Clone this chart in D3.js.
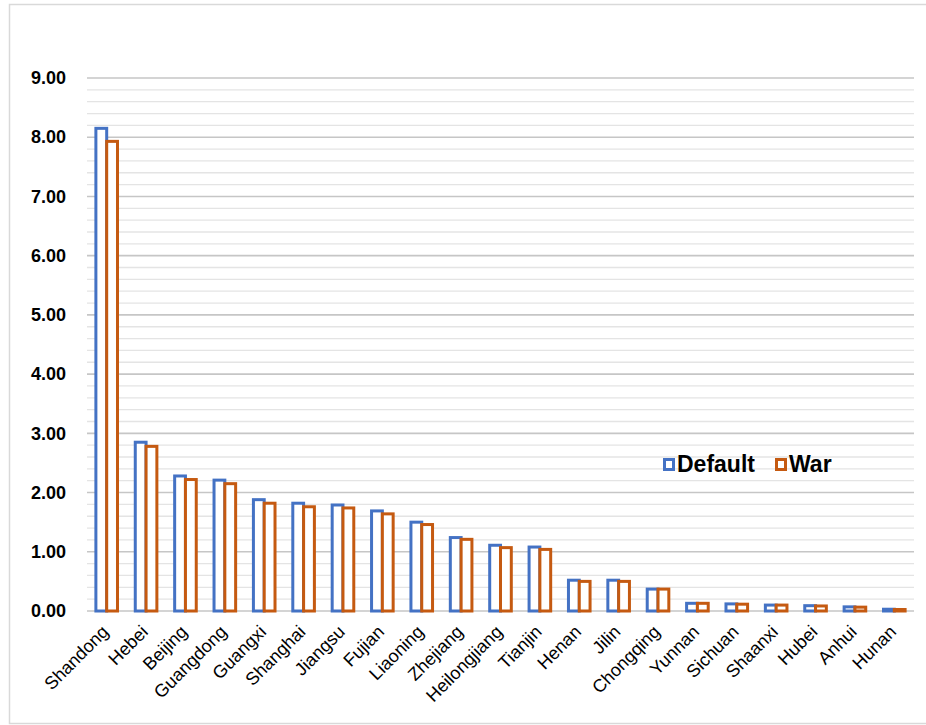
<!DOCTYPE html>
<html>
<head>
<meta charset="utf-8">
<script src="https://cdn.jsdelivr.net/npm/d3@7"></script>
<style>
    body { margin: 0; background: #fff; }
    svg { display: block; font-family: "Liberation Sans", Arial, Helvetica, sans-serif; }
</style>
</head>
<body>
<svg id="chart" width="926" height="725"></svg>
<script>
let provinces = ["Shandong", "Hebei", "Beijing", "Guangdong", "Guangxi", "Shanghai", "Jiangsu",
    "Fujian", "Liaoning", "Zhejiang", "Heilongjiang", "Tianjin", "Henan", "Jilin", "Chongqing",
    "Yunnan", "Sichuan", "Shaanxi", "Hubei", "Anhui", "Hunan"];
let defaultValues = [8.15, 2.85, 2.28, 2.21, 1.88, 1.82, 1.79, 1.69, 1.50, 1.24, 1.11, 1.08,
    0.52, 0.52, 0.37, 0.13, 0.12, 0.10, 0.09, 0.07, 0.03];
let warValues = [7.93, 2.78, 2.22, 2.15, 1.82, 1.76, 1.74, 1.64, 1.46, 1.21, 1.07, 1.04,
    0.50, 0.50, 0.37, 0.13, 0.115, 0.10, 0.085, 0.065, 0.025];
let seriesNames = ["Default", "War"];
let yTicks = [0, 1, 2, 3, 4, 5, 6, 7, 8, 9];

let colors = { "Default": "#4472C4", "War": "#C55A11" };
let barW = 10.8;

let svg = d3.select("#chart");

// chart frame
svg.append("rect")
    .attr("x", 9.5)
    .attr("y", 4.5)
    .attr("width", 940)
    .attr("height", 719)
    .attr("fill", "none")
    .attr("stroke", "#d9d9d9")
    .attr("stroke-width", 1.5);

let x = d3.scaleBand()
    .domain(provinces)
    .range([87, 914]);

let x1 = d3.scaleBand()
    .domain(seriesNames)
    .range([-barW, barW]);

let y = d3.scaleLinear()
    .domain([0, 9])
    .range([611, 78]);

// minor gridlines every 0.2
let minorTicks = d3.range(0, 45).map(i => i / 5).filter(v => v % 1 !== 0);
svg.append("g")
    .selectAll("line")
    .data(minorTicks)
    .enter()
    .append("line")
    .attr("x1", 87)
    .attr("x2", 914)
    .attr("y1", d => y(d))
    .attr("y2", d => y(d))
    .attr("stroke", "#e4e4e4")
    .attr("stroke-width", 1.3);

// major gridlines
svg.append("g")
    .selectAll("line")
    .data(yTicks)
    .enter()
    .append("line")
    .attr("x1", 87)
    .attr("x2", 914)
    .attr("y1", d => y(d))
    .attr("y2", d => y(d))
    .attr("stroke", "#c6c6c6")
    .attr("stroke-width", 1.6);

// y axis labels
let yAxis = svg.append("g")
    .attr("transform", "translate(66,0)")
    .call(d3.axisLeft(y).tickValues(yTicks).tickFormat(d3.format(".2f")).tickSize(0).tickPadding(0));
yAxis.select(".domain").remove();
yAxis.selectAll("text")
    .attr("fill", "#000")
    .style("font-size", "18px")
    .style("font-weight", "bold")
    .style("font-family", "\"Liberation Sans\", Arial, sans-serif");

// bars
let rows = provinces.map((p, i) => ({ name: p, Default: defaultValues[i], War: warValues[i] }));

seriesNames.forEach(s => {
    svg.append("g")
        .selectAll("rect")
        .data(rows)
        .enter()
        .append("rect")
        .attr("x", d => x(d.name) + x.bandwidth() / 2 + x1(s))
        .attr("y", d => y(d[s]))
        .attr("width", x1.bandwidth())
        .attr("height", d => y(0) - y(d[s]))
        .attr("fill", "#fff")
        .attr("stroke", colors[s])
        .attr("stroke-width", 3);
});

// x labels
svg.append("g")
    .selectAll("text")
    .data(provinces)
    .enter()
    .append("text")
    .attr("text-anchor", "end")
    .attr("transform", d => "translate(" + (x(d) + x.bandwidth() / 2 + 3) + ",633) rotate(-45)")
    .style("font-size", "18px")
    .attr("fill", "#000")
    .text(d => d);

// legend
let legendX = [663, 775];
let legend = svg.append("g")
    .selectAll("g")
    .data(seriesNames)
    .enter()
    .append("g")
    .attr("transform", (d, i) => "translate(" + legendX[i] + ",458)");

legend.append("rect")
    .attr("x", 1.5)
    .attr("y", 1.5)
    .attr("width", 9)
    .attr("height", 10)
    .attr("fill", "#fff")
    .attr("stroke", d => colors[d])
    .attr("stroke-width", 3);

legend.append("text")
    .attr("x", 14)
    .attr("y", 14)
    .style("font-size", "23px")
    .style("font-weight", "bold")
    .attr("fill", "#000")
    .text(d => d);
</script>
</body>
</html>
